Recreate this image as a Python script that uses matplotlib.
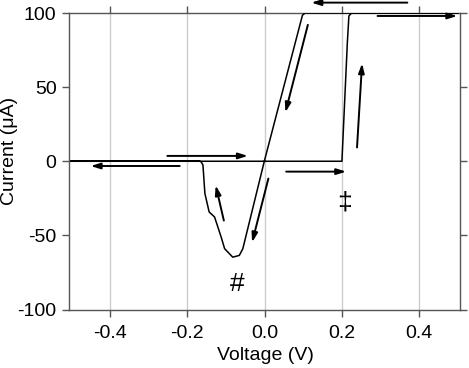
import matplotlib
matplotlib.use("Agg")
import matplotlib.pyplot as plt

plt.rcParams['font.family'] = ['Liberation Sans', 'DejaVu Sans']

# I-V sweep trace (Voltage in V, Current in uA)
voltage = [-0.5, 0.2, 0.214, 0.218, 0.225, 0.5, 0.105, 0.098, 0.0, -0.056, -0.065,
           -0.082, -0.103, -0.112, -0.129, -0.143, -0.154, -0.159, -0.164, -0.168, -0.5]
current = [0, 0, 80, 98, 100, 100, 100, 98.5, 0.5, -59, -63.5,
           -64.7, -59, -51.1, -37.6, -34.2, -21.7, -2.5, -0.3, 0, 0]

# arrows: (x_start, y_start, x_end, y_end)
arrows = [
    (0.369, 107, 0.121, 107),
    (0.292, 98, 0.498, 98),
    (0.112, 92, 0.054, 33),
    (0.239, 9.3, 0.252, 66),
    (-0.251, 3.6, -0.043, 3.6),
    (-0.219, -3.2, -0.449, -3.2),
    (-0.105, -40, -0.126, -16.3),
    (0.010, -11.7, -0.032, -54.7),
    (0.056, -7, 0.211, -7),
]

marks = [("#", -0.071, -83), ("\u2021", 0.207, -28)]

xticks = [-0.4, -0.2, 0.0, 0.2, 0.4]
yticks = [-100, -50, 0, 50, 100]

W, H = 469, 368
fig = plt.figure(figsize=(W/100, H/100), dpi=100)
ax = fig.add_axes([69/W, 1-309.5/H, (460-69)/W, (309.5-13)/H])

for x in xticks:
    ax.axvline(x, color='#cccccc', lw=1.0, zorder=0)

ax.plot(voltage, current, color='black', lw=1.1, zorder=3)

for x0, y0, x1, y1 in arrows:
    ax.annotate("", xy=(x1, y1), xytext=(x0, y0), annotation_clip=False,
                arrowprops=dict(arrowstyle='-|>,head_length=0.7,head_width=0.22',
                                color='black', lw=1.4, shrinkA=0, shrinkB=0,
                                mutation_scale=8), zorder=4)

for t, x, y in marks:
    ax.text(x, y, t, fontsize=19, ha='center', va='center', color='black')

ax.set_xlim(-0.505, 0.505)
ax.set_ylim(-100, 100)
ax.set_xticks(xticks)
ax.set_xticklabels(["-0.4", "-0.2", "0.0", "0.2", "0.4"])
ax.set_yticks(yticks)
ax.set_yticklabels([str(v) for v in yticks])
ax.tick_params(direction='out', length=5, width=1, color='#555555',
               top=True, right=True, labelsize=14)
ax.tick_params(axis='x', pad=6)
ax.tick_params(axis='y', pad=4)
for s in ax.spines.values():
    s.set_color('#555555')
    s.set_linewidth(1.0)

fig.text(265/W, 1-360/H, "Voltage (V)", fontsize=14, ha='center', va='baseline')
fig.text(1/W, 1-151/H, "Current (\u03bcA)", fontsize=14, ha='left', va='center',
         rotation=90)

fig.savefig("out.png", dpi=100)
